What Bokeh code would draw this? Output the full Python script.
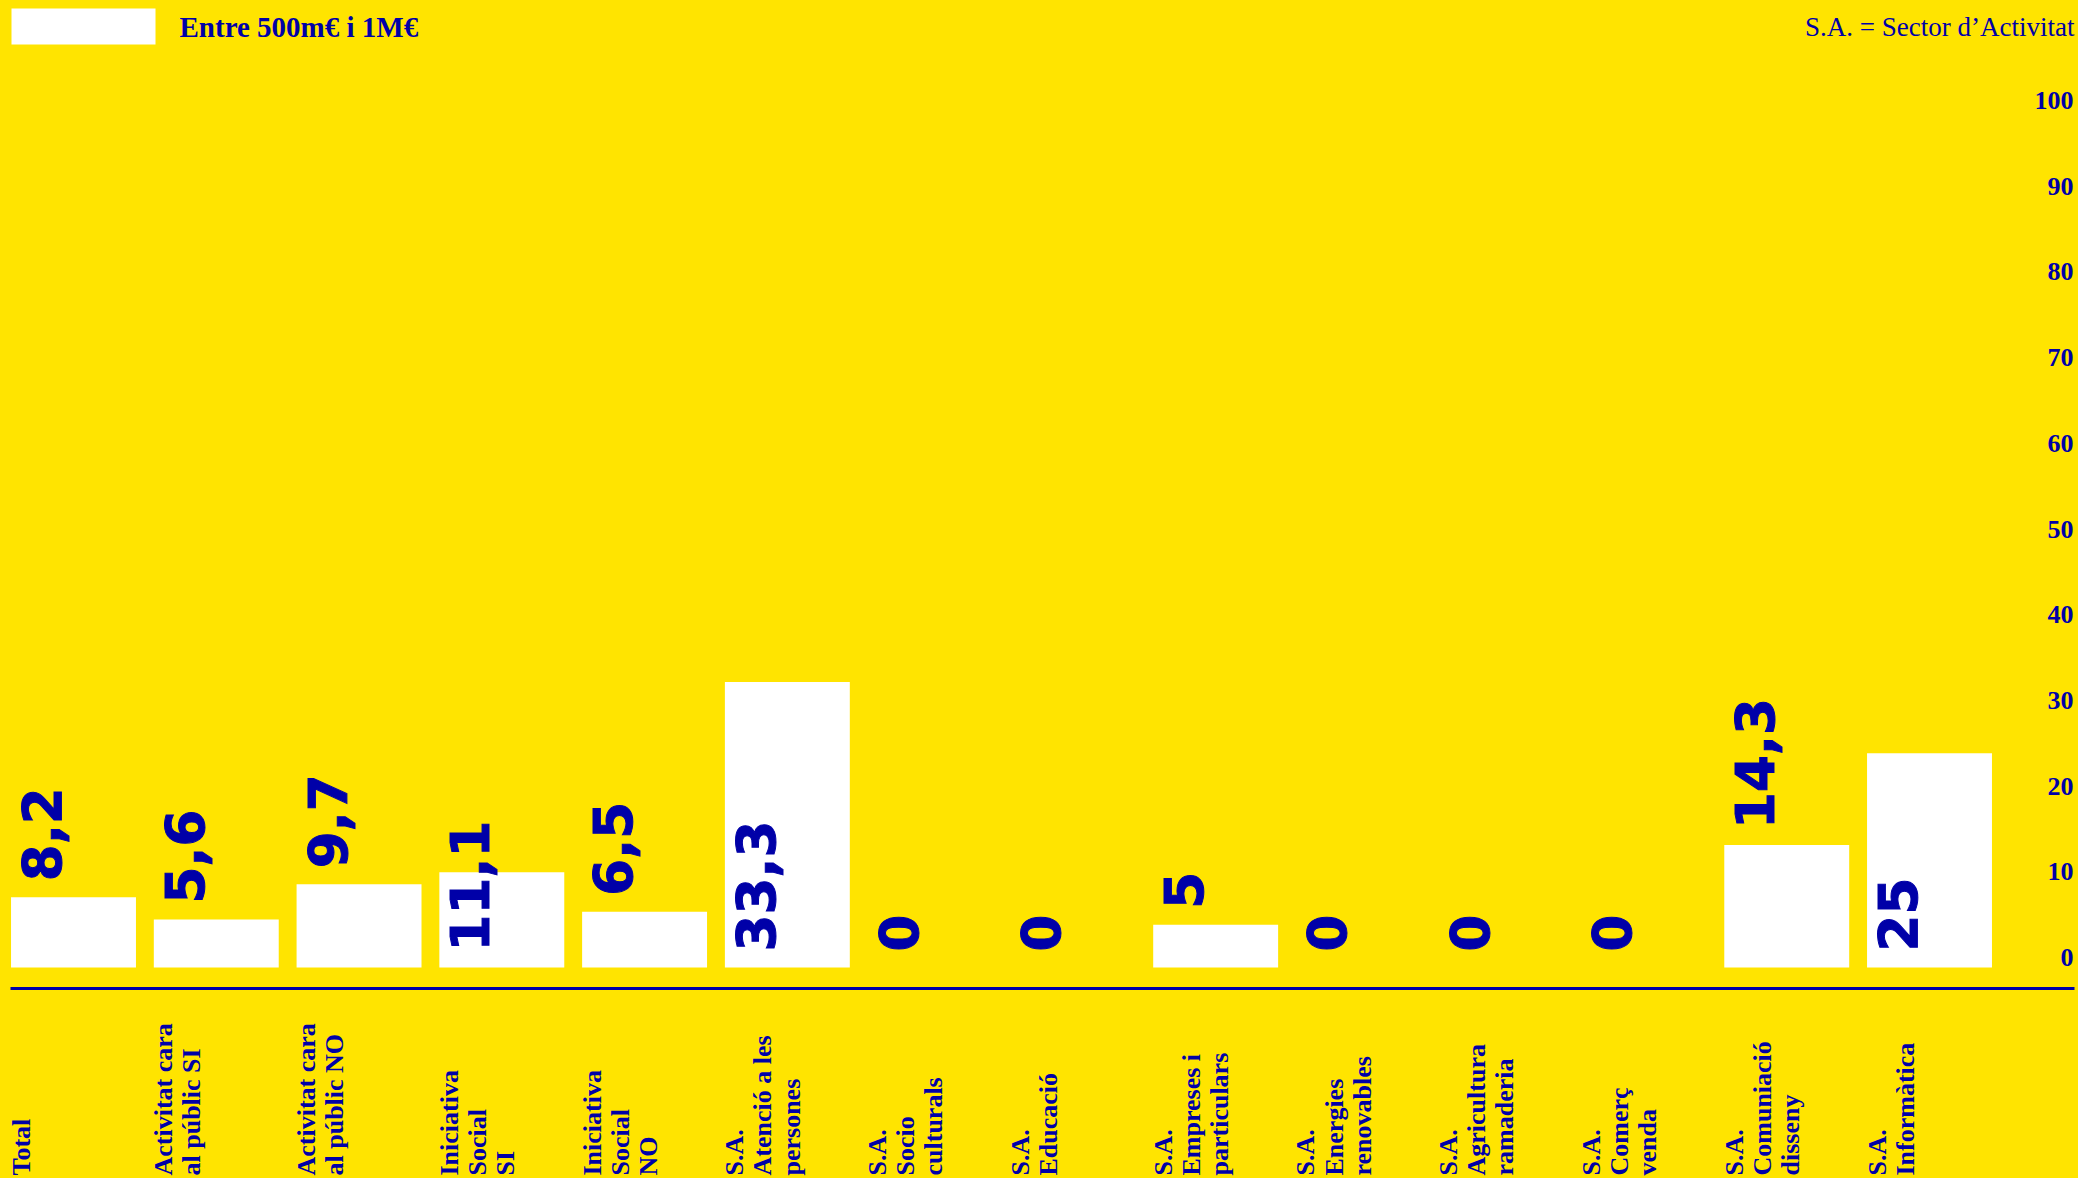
import numpy as np
from bokeh.plotting import figure
from bokeh.models import Range1d, ColumnDataSource
from bokeh.core.properties import value
from bokeh.embed import file_html
from bokeh.resources import INLINE

# ---------------- data ----------------
categories = [
    "Total",
    "Activitat cara\nal públic SI",
    "Activitat cara\nal públic NO",
    "Iniciativa\nSocial\nSI",
    "Iniciativa\nSocial\nNO",
    "S.A.\nAtenció a les\npersones",
    "S.A.\nSocio\nculturals",
    "S.A.\nEducació",
    "S.A.\nEmpreses i\nparticulars",
    "S.A.\nEnergies\nrenovables",
    "S.A.\nAgricultura\nramaderia",
    "S.A.\nComerç\nvenda",
    "S.A.\nComuniació\ndisseny",
    "S.A.\nInformàtica",
]
values = [8.2, 5.6, 9.7, 11.1, 6.5, 33.3, 0, 0, 5, 0, 0, 0, 14.3, 25]
tick_values = [0, 10, 20, 30, 40, 50, 60, 70, 80, 90, 100]
series_name = "Entre 500m€ i 1M€"
note_text = "S.A. = Sector d’Activitat"

# value labels that sit at the base of their bar (style choice)
label_at_base = [3, 5, 13]

# ---------------- style ----------------
YELLOW = "#FFE400"
BLUE = "#0000A8"
W, H = 2078, 1178
PITCH = 142.77          # px per category
X0 = 73                 # px of first category centre
ZERO = 967              # px (from top) of value 0
PPU = 8.57              # px per value unit

p = figure(
    width=W, height=H,
    x_range=Range1d(-X0 / PITCH, (W - X0) / PITCH),
    y_range=Range1d(-(H - ZERO) / PPU, ZERO / PPU),
    x_axis_location=None, y_axis_location=None,
    output_backend="svg", toolbar_location=None,
    min_border=0, min_border_left=0, min_border_right=0,
    min_border_top=0, min_border_bottom=0,
    background_fill_color=YELLOW, border_fill_color=YELLOW,
    outline_line_color=None,
)
p.grid.visible = False
p.extra_x_ranges["px"] = Range1d(0, W)
p.extra_y_ranges["px"] = Range1d(H, 0)

idx = list(range(len(categories)))
val_text = [f"{v:g}".replace(".", ",") for v in values]
val_y = [0 if i in label_at_base else v for i, v in zip(idx, values)]

src = ColumnDataSource(dict(x=idx, top=values, cat=categories, vt=val_text, vy=val_y))

# bars
p.vbar(x="x", top="top", bottom=0, width=0.875, source=src,
       fill_color="white", line_color=None)

# value labels (rotated)
p.text(x="x", y="vy", text="vt", source=src, angle=np.pi / 2,
       x_offset=-32, y_offset=-16,
       text_align="left", text_baseline="middle",
       text_font=value("DejaVu Sans"), text_font_style="bold",
       text_font_size="53px", text_color=BLUE,
       text_outline_color=BLUE)

# baseline rule
p.segment(x0=[10], x1=[2074], y0=[988], y1=[988],
          x_range_name="px", y_range_name="px",
          line_color=BLUE, line_width=3)

# category labels (rotated, bottom aligned)
cat_src = ColumnDataSource(dict(x=idx, cat=categories, y=[H - 3] * len(idx)))
p.text(x="x", y="y", text="cat", source=cat_src, y_range_name="px",
       angle=np.pi / 2, x_offset=-67,
       text_align="left", text_baseline="top", text_line_height=0.97,
       text_font=value("Liberation Serif"), text_font_style="bold",
       text_font_size="26px", text_color=BLUE)

# value scale labels on the right
tick_src = ColumnDataSource(dict(x=[W - 5] * len(tick_values), y=tick_values,
                                 t=[str(t) for t in tick_values]))
p.text(x="x", y="y", text="t", source=tick_src, x_range_name="px",
       y_offset=-10, text_align="right", text_baseline="middle",
       text_font=value("Liberation Serif"), text_font_style="bold",
       text_font_size="26px", text_color=BLUE)

# legend swatch + series name
p.quad(left=[11], right=[155], top=[8], bottom=[44],
       x_range_name="px", y_range_name="px",
       fill_color="white", line_color=None)
p.text(x=[179], y=[26], text=[series_name], x_range_name="px", y_range_name="px",
       text_align="left", text_baseline="middle",
       text_font=value("Liberation Serif"), text_font_style="bold",
       text_font_size="29px", text_color=BLUE)

# note top right
p.text(x=[W - 4], y=[26], text=[note_text], x_range_name="px", y_range_name="px",
       text_align="right", text_baseline="middle",
       text_font=value("Liberation Serif"),
       text_font_size="27px", text_color=BLUE)

html = file_html(p, INLINE, title="Entre 500m€ i 1M€")
html = html.replace("</head>", "<style>html,body{background:%s;}</style></head>" % YELLOW, 1)
open("out.html", "w").write(html)
